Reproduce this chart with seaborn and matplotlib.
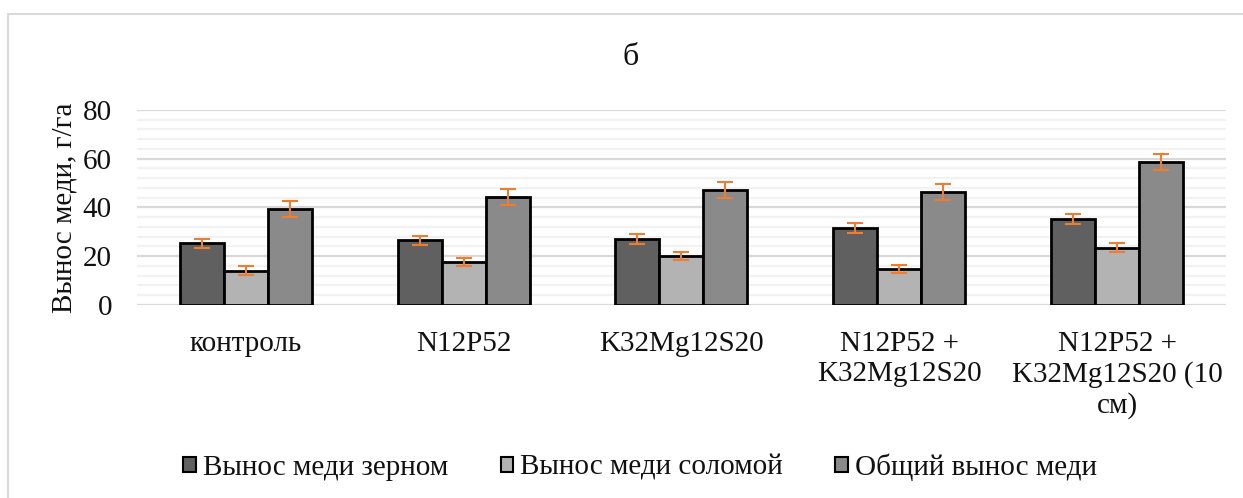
import numpy as np
import pandas as pd
import seaborn as sns
import matplotlib.pyplot as plt
from matplotlib.patches import Patch, Rectangle
from matplotlib.ticker import MultipleLocator

# Данные: вынос меди, г/га
categories = ["контроль", "N12P52", "K32Mg12S20",
              "N12P52 +\nK32Mg12S20", "N12P52 +\nK32Mg12S20 (10\nсм)"]
series_names = ["Вынос меди зерном", "Вынос меди соломой", "Общий вынос меди"]
grain = [25.3, 26.5, 27.1, 31.6, 35.3]
straw = [14.0, 17.6, 20.1, 14.8, 23.5]
total = [39.2, 44.2, 47.0, 46.4, 58.8]
grain_err = [1.9, 1.9, 1.9, 1.9, 1.9]
straw_err = [1.8, 1.8, 1.8, 1.8, 1.8]
total_err = [3.3, 3.3, 3.3, 3.3, 3.3]
y_ticks = [0, 20, 40, 60, 80]
title = "б"
y_label = "Вынос меди, г/га"

colors = ["#606060", "#b3b3b3", "#8a8a8a"]
err_color = "#ED7D31"
fs = 21

sns.set_theme(style="white")
plt.rcParams["font.family"] = ["Liberation Serif", "DejaVu Serif"]

df = pd.DataFrame({
    "category": categories * 3,
    "series": sum([[s] * len(categories) for s in series_names], []),
    "value": grain + straw + total,
})
errs = grain_err + straw_err + total_err

fig = plt.figure(figsize=(12.43, 4.98), dpi=100)
ax = fig.add_axes([0.1102, 0.3876, 0.8761, 0.3916])

sns.barplot(data=df, x="category", y="value", hue="series", order=categories,
            hue_order=series_names, palette=colors, width=0.606,
            errorbar=None, edgecolor="black", linewidth=2.0,
            saturation=1, legend=False, ax=ax, zorder=3)

# Error bars placed at the centres of the drawn bars
bars = [p for p in ax.patches if isinstance(p, Rectangle)][:len(df)]
for p, e in zip(bars, errs):
    xc = p.get_x() + p.get_width() / 2
    ax.errorbar(xc, p.get_height(), yerr=e, fmt="none", ecolor=err_color,
                elinewidth=1.5, capsize=6, capthick=1.5, zorder=4)

ax.set_ylim(0, 80)
ax.set_xlim(-0.5, len(categories) - 0.5)
ax.set_yticks(y_ticks)
ax.yaxis.set_minor_locator(MultipleLocator(4))
ax.grid(which="major", axis="y", color="#d9d9d9", linewidth=1.6, zorder=0)
ax.grid(which="minor", axis="y", color="#f2f2f2", linewidth=1.6, zorder=0)
ax.grid(axis="x", visible=False)
ax.set_axisbelow(True)
for s in ax.spines.values():
    s.set_visible(False)
ax.tick_params(axis="y", which="both", length=0, pad=18, labelsize=fs, labelcolor="#111111")
ax.tick_params(axis="x", length=0, pad=19, labelsize=fs, labelcolor="#111111")
ax.set_xlabel("")
ax.set_ylabel(y_label, fontsize=fs, color="#111111", labelpad=4)

fig.text(0.5077, 0.884, title, ha="center", va="center", fontsize=23, color="#111111")

handles = [Patch(facecolor=c, edgecolor="black", linewidth=1.5) for c in colors]
fig.legend(handles, series_names, loc="center", bbox_to_anchor=(0.515, 0.062),
           ncol=3, frameon=False, fontsize=fs, handlelength=0.42, handleheight=0.42,
           handletextpad=0.25, columnspacing=1.8, labelcolor="#111111")

# Chart frame
fig.patches.append(Rectangle((8 / 1243, -0.1), 1.2, 1 - 14 / 498 + 0.1,
                             transform=fig.transFigure, fill=False,
                             edgecolor="#d9d9d9", linewidth=1.5, zorder=0))

fig.savefig("out.png", dpi=100, facecolor="white")
